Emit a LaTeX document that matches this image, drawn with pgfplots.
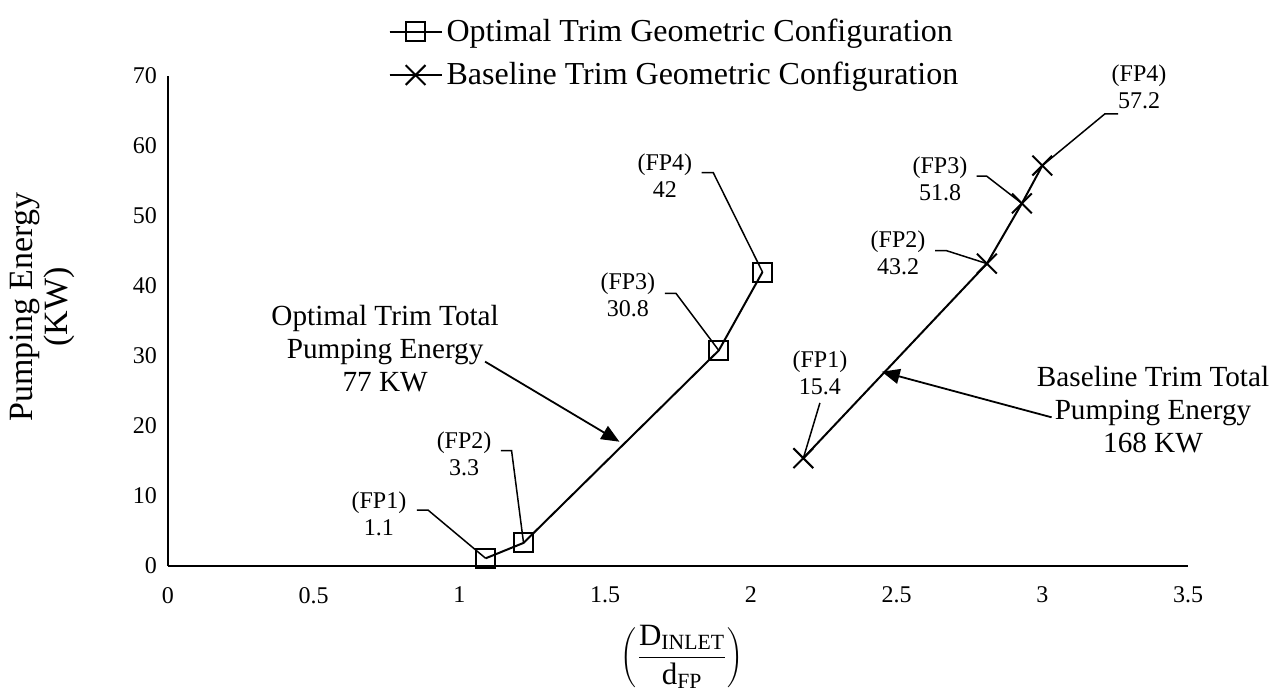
\documentclass[border=0pt]{standalone}
\usepackage{fontspec}
\setmainfont{Liberation Serif}
\usepackage{pgfplots}
\pgfplotsset{compat=1.18}
\usetikzlibrary{arrows.meta}

\begin{document}
\begin{tikzpicture}
% page = 1278 x 698 px at 0.5pt per px, axis box at (168,566)-(1188,76)
\useasboundingbox (-84pt,-66pt) rectangle (555pt,283pt);
\begin{axis}[
    at={(0pt,0pt)}, anchor=south west,
    scale only axis, width=510pt, height=245pt,
    xmin=0, xmax=3.5, ymin=0, ymax=70,
    xtick={0,0.5,...,3.5}, ytick={0,10,...,70},
    axis x line*=bottom, axis y line*=left,
    axis line style={line width=1pt},
    major tick length=0pt,
    tick label style={font=\fontsize{12}{14}\selectfont},
    /pgf/number format/assume math mode=true,
    xticklabel style={yshift=-7pt},
    yticklabel style={xshift=-2pt},
    clip=false,
    legend style={at={(0.210,1.134)}, anchor=north west, draw=none, fill=none,
        font=\fontsize{16}{18}\selectfont, row sep=5pt},
    legend cell align=left,
    legend image code/.code={
        \draw[#1] (0pt,0pt) -- (26pt,0pt);
        \draw[#1, mark repeat=2, mark phase=2] plot coordinates {(0pt,0pt) (13pt,0pt) (26pt,0pt)};
    },
]
\addplot[black, line width=1pt, mark=square, mark size=4.75pt, mark options={solid}]
    coordinates {(1.09,1.1) (1.22,3.3) (1.89,30.8) (2.04,42)};
\addlegendentry{Optimal Trim Geometric Configuration}
\addplot[black, line width=1pt, mark=x, mark size=7pt]
    coordinates {(2.18,15.4) (2.81,43.2) (2.93,51.8) (3.0,57.2)};
\addlegendentry{Baseline Trim Geometric Configuration}

% callouts, optimal
\draw[line width=0.75pt] (axis cs:0.854,8) -- (axis cs:0.892,8) -- (axis cs:1.09,1.1);
\draw[line width=0.75pt] (axis cs:1.142,16.47) -- (axis cs:1.179,16.47) -- (axis cs:1.22,3.3);
\draw[line width=0.75pt] (axis cs:1.705,38.96) -- (axis cs:1.743,38.96) -- (axis cs:1.89,30.8);
\draw[line width=0.75pt] (axis cs:1.831,56.19) -- (axis cs:1.871,56.19) -- (axis cs:2.04,42);
\begin{scope}[every node/.style={font=\fontsize{12}{13.5}\selectfont, align=center}]
\node at (axis cs:0.724,7.5) {(FP1)\\1.1};
\node at (axis cs:1.016,16.07) {(FP2)\\3.3};
\node at (axis cs:1.578,38.7) {(FP3)\\30.8};
\node at (axis cs:1.705,55.8) {(FP4)\\42};
\node at (axis cs:2.237,27.6) {(FP1)\\15.4};
\node at (axis cs:2.505,44.7) {(FP2)\\43.2};
\node at (axis cs:2.649,55.3) {(FP3)\\51.8};
\node at (axis cs:3.332,68.4) {(FP4)\\57.2};
\end{scope}
% callouts, baseline
\draw[line width=0.75pt] (axis cs:2.237,23.3) -- (axis cs:2.18,15.4);
\draw[line width=0.75pt] (axis cs:2.632,45.04) -- (axis cs:2.672,45.04) -- (axis cs:2.81,43.2);
\draw[line width=0.75pt] (axis cs:2.775,55.7) -- (axis cs:2.809,55.7) -- (axis cs:2.93,51.8);
\draw[line width=0.75pt] (axis cs:3.0,57.2) -- (axis cs:3.215,64.6) -- (axis cs:3.26,64.6);

% totals
\node[font=\fontsize{14.6}{16.5}\selectfont, align=center] at (axis cs:0.745,31.1)
    {Optimal Trim Total\\Pumping Energy\\77 KW};
\draw[line width=0.9pt, -{Triangle[length=9pt, width=7.5pt]}] (axis cs:1.088,29.2) -- (axis cs:1.549,17.76);
\node[font=\fontsize{14.6}{16.5}\selectfont, align=center] at (axis cs:3.38,22.3)
    {Baseline Trim Total\\Pumping Energy\\168 KW};
\draw[line width=0.9pt, -{Triangle[length=9pt, width=7.5pt]}] (axis cs:3.032,21.24) -- (axis cs:2.449,27.76);

% axis titles
\node[rotate=90, align=center, font=\fontsize{17}{17.5}\selectfont] at (axis cs:-0.432,37) {Pumping Energy\\(KW)};
\node[font=\fontsize{15.5}{18}\selectfont] at (axis cs:1.764,-13)
    {$\left(\displaystyle\frac{\mathrm{D}_{\mathrm{INLET}}}{\mathrm{d}_{\mathrm{FP}}}\right)$};
\end{axis}
\end{tikzpicture}
\end{document}
